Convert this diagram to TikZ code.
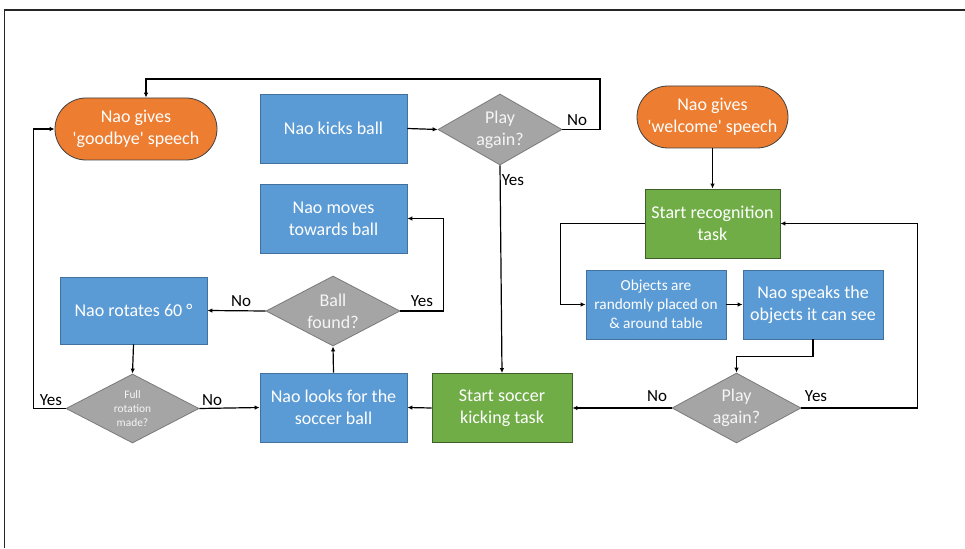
\documentclass[tikz,border=0pt]{standalone}
\usepackage{fontspec}
\setmainfont{Carlito}
\usetikzlibrary{shapes.geometric,arrows.meta}
\definecolor{cblue}{HTML}{5B9BD5}
\definecolor{cblueb}{HTML}{41719C}
\definecolor{corange}{HTML}{ED7D31}
\definecolor{corangeb}{HTML}{404040}
\definecolor{cgreen}{HTML}{70AD47}
\definecolor{cgreenb}{HTML}{3F5F2A}
\definecolor{cgray}{HTML}{A5A5A5}
\definecolor{cgrayb}{HTML}{7A7A7A}
\tikzset{
  box/.style={rectangle, draw=cblueb, fill=cblue, line width=0.8pt, inner sep=0pt,
    minimum width=147pt, minimum height=69pt, text=white, align=center,
    font=\fontsize{18}{22}\selectfont},
  gbox/.style={box, draw=cgreenb, fill=cgreen, minimum width=140pt},
  term/.style={rectangle, rounded corners=31pt, draw=corangeb, fill=corange, line width=0.8pt,
    inner sep=0pt, minimum height=62pt, text=white, align=center,
    font=\fontsize{18}{22}\selectfont},
  dec/.style={diamond, draw=cgrayb, fill=cgray, line width=0.8pt, inner sep=0pt},
  dectext/.style={text=white!92!gray, align=center, inner sep=0pt,
    font=\fontsize{18}{22}\selectfont},
  arr/.style={draw=black, line width=1.2pt, -{Latex[length=5pt,width=4.5pt]}},
  lbl/.style={text=black, font=\fontsize{17}{20}\selectfont, inner sep=0pt}
}
\begin{document}
\begin{tikzpicture}[x=1pt,y=-1pt]
\useasboundingbox (0,0) rectangle (965,548);
\draw[line width=1.1pt, black!85] (4.5,548) -- (4.5,10) -- (965,10);

\node[term, minimum width=162pt] (goodbye) at (136,129) {Nao gives\\\textquotesingle goodbye\textquotesingle\ speech};
\node[term, minimum width=151pt] (welcome) at (712.5,117) {Nao gives\\\textquotesingle welcome\textquotesingle\ speech};
\node[box] (kicks) at (333.5,128.5) {Nao kicks ball};
\node[box] (moves) at (333.5,218.5) {Nao moves\\towards ball};
\node[dec, minimum width=124pt, minimum height=71pt,
  label={[dectext]center:{Play\\again?}}] (play1) at (500,129.5) {};
\node[gbox, minimum width=135pt] (recog) at (712.5,223.5) {Start recognition\\task};
\node[box, minimum width=140pt, font=\fontsize{15.3}{19}\selectfont] (objects) at (656,304.5) {Objects are\\randomly placed on\\\& around table};
\node[box, minimum width=140pt] (speaks) at (813,304.5) {Nao speaks the\\objects it can see};
\node[dec, minimum width=129pt, minimum height=70pt,
  label={[dectext]center:{Play\\again?}}] (play2) at (736.5,408) {};
\node[gbox] (soccer) at (502,408) {Start soccer\\kicking task};
\node[box] (looks) at (333.5,407.5) {Nao looks for the\\soccer ball};
\node[dec, minimum width=134pt, minimum height=70pt,
  label={[dectext]center:{Ball\\found?}}] (ball) at (333,311) {};
\node[box, minimum height=67pt] (rotates) at (133.5,310.5) {Nao rotates 60 °};
\node[dec, minimum width=133pt, minimum height=69pt,
  label={[dectext, font=\fontsize{11.4}{13.8}\selectfont]center:{Full\\rotation\\made?}}] (full) at (132.5,408.5) {};

\coordinate (c1) at (600,79);
\draw[arr] (kicks.east) -- (play1.west);
\draw[arr] (play1.east) -| (c1) -| ([xshift=10pt]goodbye.north);
\node[lbl] at (577,120) {No};
\draw[arr] (play1.south) -- (soccer.north);
\node[lbl] at (513,180) {Yes};
\draw[arr] (welcome.south) -- (recog.north);
\draw[arr] (recog.west) -- ++(-84,0) |- (objects.west);
\draw[arr] (objects.east) -- (speaks.west);
\draw[arr] (speaks.south) -- ++(0,17) -| (play2.north);
\draw[arr] (play2.east) -- ++(116,0) |- (recog.east);
\node[lbl] at (816,396) {Yes};
\draw[arr] (play2.west) -- (soccer.east);
\node[lbl] at (657,396) {No};
\draw[arr] (soccer.west) -- (looks.east);
\draw[arr] (looks.north) -- (ball.south);
\draw[arr] (ball.east) -- ++(43,0) |- (moves.east);
\node[lbl] at (422,301) {Yes};
\draw[arr] (ball.west) -- (rotates.east);
\node[lbl] at (241,301) {No};
\draw[arr] (rotates.south) -- (full.north);
\draw[arr] (full.east) -- (looks.west);
\node[lbl] at (212,400) {No};
\draw[arr] (full.west) -- ++(-32,0) |- (goodbye.west);
\node[lbl] at (51,400) {Yes};
\end{tikzpicture}
\end{document}
